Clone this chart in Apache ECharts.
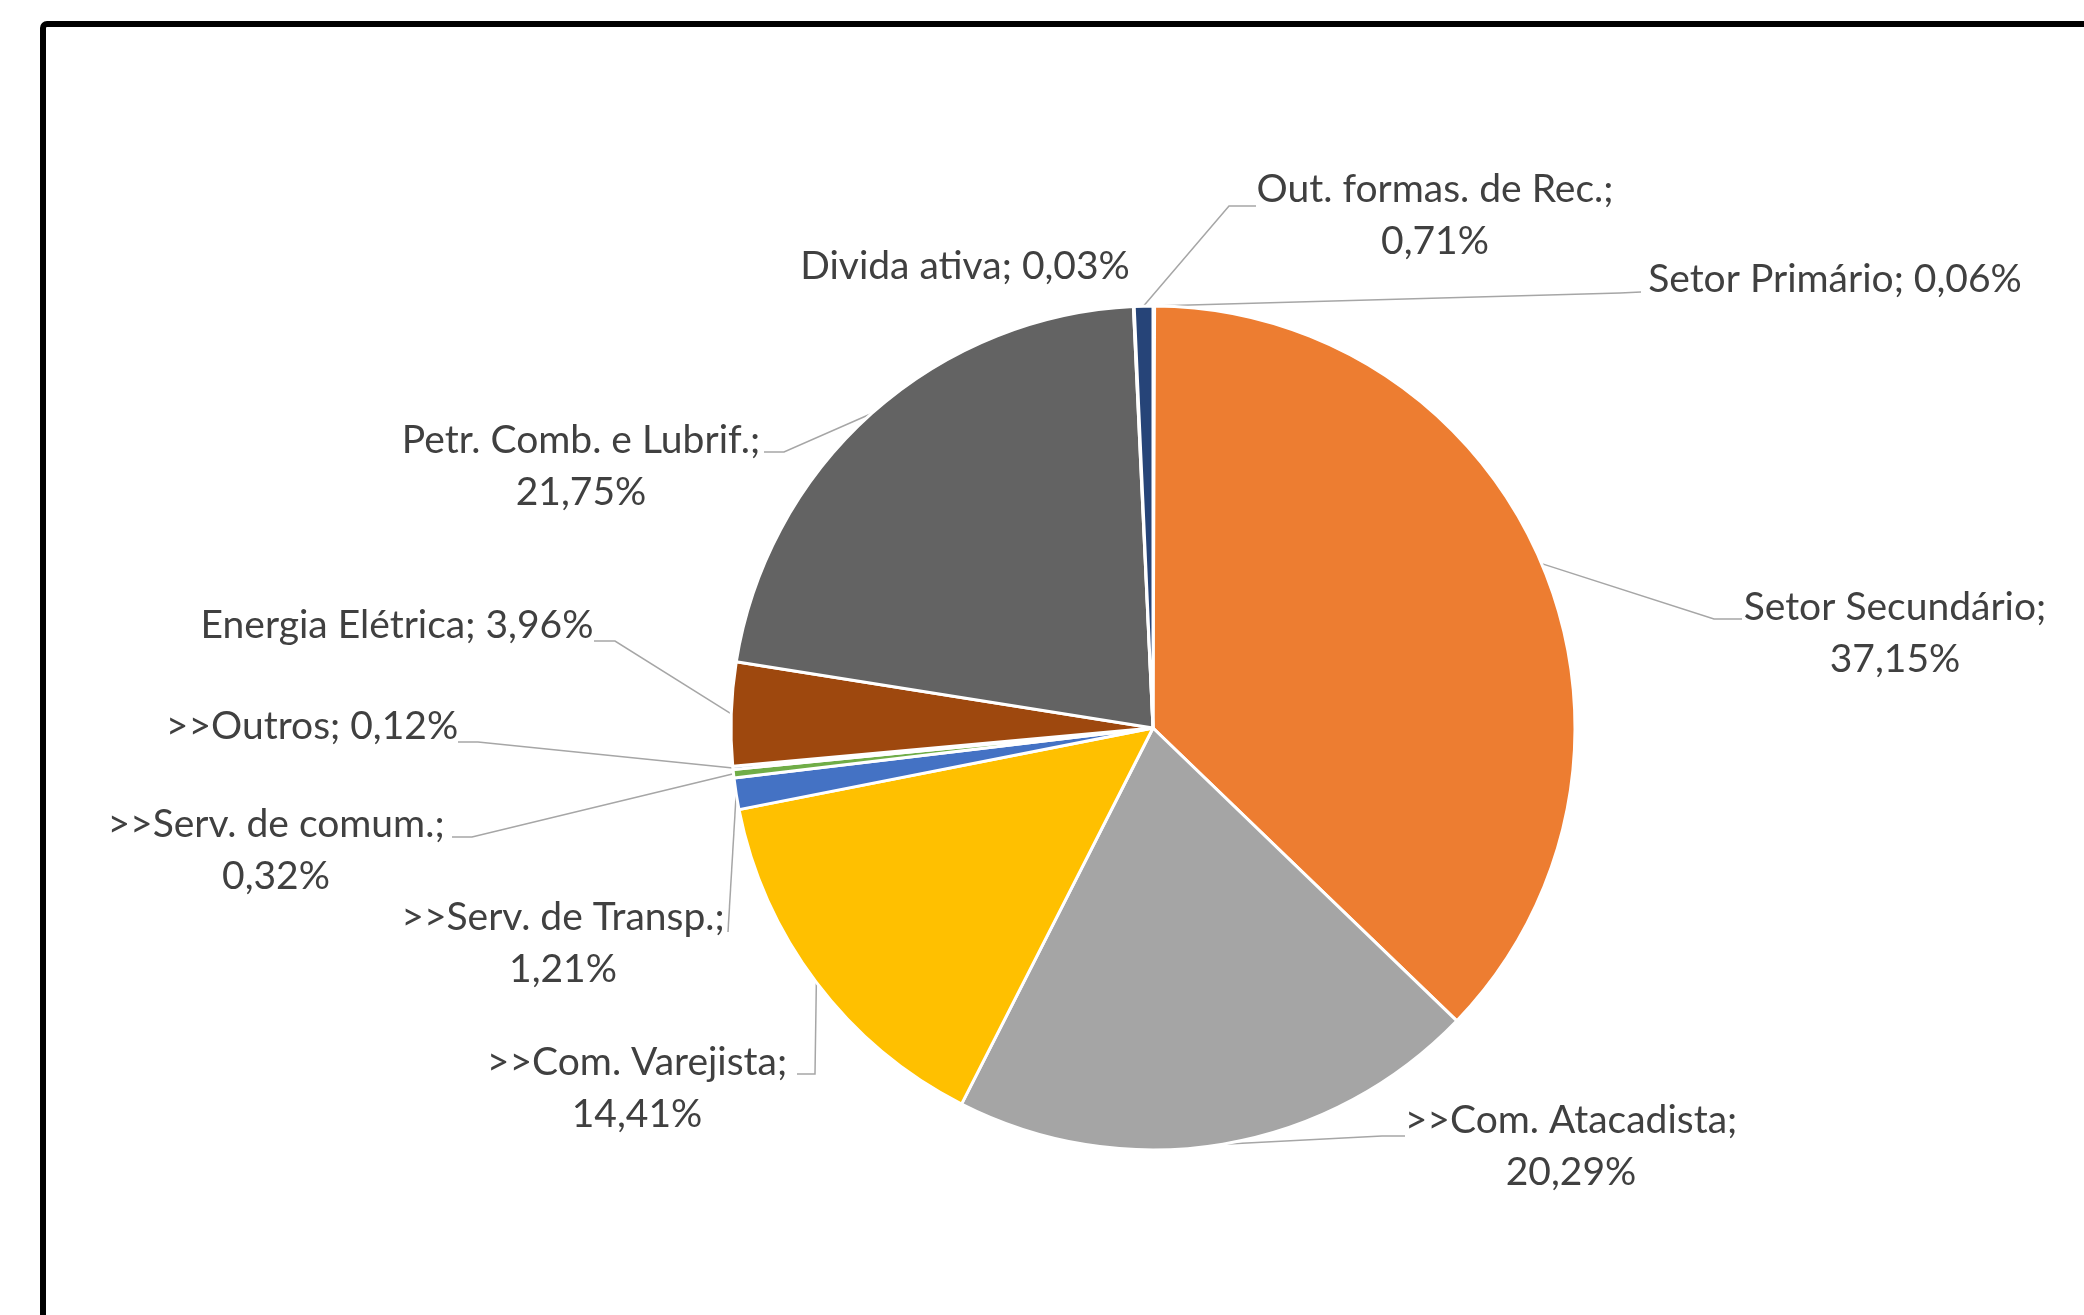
<!DOCTYPE html>
<html>
<head>
<meta charset="utf-8">
<script src="https://cdn.jsdelivr.net/npm/echarts@6/dist/echarts.min.js"></script>
<style>
    html, body { margin: 0; padding: 0; background: #fff; }
    #chart { width: 2084px; height: 1315px; }
</style>
</head>
<body>
<div id="chart"></div>
<script>
// categorias na ordem do gráfico (sentido horário a partir do topo)
const categories = ['Setor Primário', 'Setor Secundário', '>>Com. Atacadista', '>>Com. Varejista',
    '>>Serv. de Transp.', '>>Serv. de comum.', '>>Outros', 'Energia Elétrica',
    'Petr. Comb. e Lubrif.', 'Divida ativa', 'Out. formas. de Rec.'];
// participação (%)
const shares = [0.06, 37.15, 20.29, 14.41, 1.21, 0.32, 0.12, 3.96, 21.75, 0.03, 0.71];

// cores do tema Office
const sliceColors = ['#5B9BD5', '#ED7D31', '#A5A5A5', '#FFC000', '#4472C4', '#70AD47',
    '#255E91', '#9E480E', '#636363', '#997300', '#264478'];

// rótulos que quebram em duas linhas
const wrapped = [false, true, true, true, true, true, false, false, true, false, true];

// posição dos rótulos (centro) e das linhas de chamada
const labelPos = [
    { x: 1835, y: 279, line: [[1620, 293], [1641, 292]] },
    { x: 1895, y: 633, line: [[1714, 619], [1742, 619]] },
    { x: 1571, y: 1146, line: [[1382, 1136], [1405, 1136]] },
    { x: 637, y: 1088, line: [[815, 1074], [797, 1074]] },
    { x: 563, y: 943, line: [[728, 932], [728, 932]] },
    { x: 276, y: 850, line: [[472, 837], [452, 837]] },
    { x: 312, y: 726, line: [[478, 742], [458, 742]] },
    { x: 397, y: 625, line: [[615, 641], [594, 641]] },
    { x: 581, y: 466, line: [[784, 452], [764, 452]] },
    { x: 965, y: 266, line: null },
    { x: 1435, y: 215, line: [[1229, 206], [1256, 206]] }
];

function fmt(v) {
    return v.toFixed(2).replace('.', ',') + '%';
}

const chart = echarts.init(document.getElementById('chart'), null, { renderer: 'canvas' });

chart.setOption({
    backgroundColor: '#ffffff',
    animation: false,
    graphic: [{
        type: 'rect',
        shape: { x: 43, y: 24, width: 2200, height: 1400, r: 4 },
        style: { fill: 'none', stroke: '#000000', lineWidth: 6 },
        silent: true
    }],
    series: [{
        type: 'pie',
        center: [1153, 728],
        radius: 422,
        startAngle: 90,
        clockwise: true,
        avoidLabelOverlap: false,
        emphasis: { disabled: true },
        itemStyle: { borderColor: '#ffffff', borderWidth: 3 },
        label: {
            show: true,
            position: 'outside',
            color: '#404040',
            fontFamily: 'Lato',
            fontSize: 39,
            lineHeight: 52,
            align: 'center',
            formatter: function (p) {
                return p.name + ';' + (wrapped[p.dataIndex] ? '\n' : ' ') + fmt(p.value);
            }
        },
        labelLine: {
            show: true,
            lineStyle: { color: '#A6A6A6', width: 1.5 }
        },
        labelLayout: function (params) {
            const pos = labelPos[params.dataIndex];
            const out = { x: pos.x, y: pos.y, align: 'center', verticalAlign: 'middle' };
            if (pos.line && params.labelLinePoints) {
                out.labelLinePoints = [params.labelLinePoints[0], pos.line[0], pos.line[1]];
            }
            return out;
        },
        data: categories.map(function (name, i) {
            return {
                name: name,
                value: shares[i],
                itemStyle: { color: sliceColors[i] },
                labelLine: { show: labelPos[i].line !== null }
            };
        })
    }]
});
</script>
</body>
</html>
